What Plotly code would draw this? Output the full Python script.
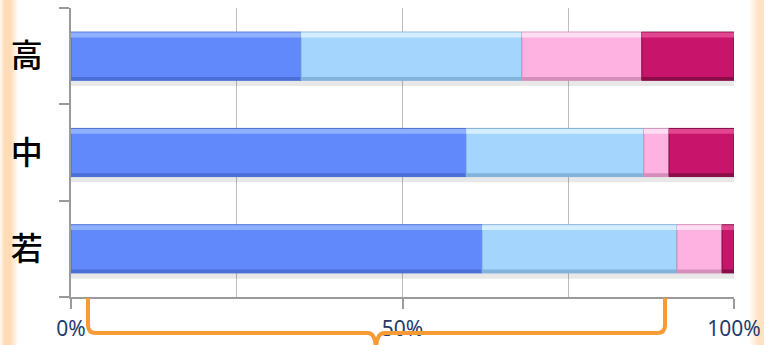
import plotly.graph_objects as go
import numpy as np

categories = ['高', '中', '若']
seg1 = [34.7, 59.6, 62.0]
seg2 = [33.3, 26.8, 29.4]
seg3 = [18.1, 3.8, 6.8]
seg4 = [13.9, 9.8, 1.8]
series = [seg1, seg2, seg3, seg4]
x_ticks = [0, 50, 100]

main_colors = ['#6189FB', '#A3D5FD', '#FEB2E1', '#C8146A']
top_colors = ['#8FB0FF', '#D4EEFF', '#FFDDF2', '#E2468E']
bot_colors = ['#4B6ED8', '#83B3DC', '#D48FBA', '#8A0C48']
edge_colors = ['#4A6CD0', '#7FAEDA', '#CF8AB5', '#7E0A41']

W = 764
H = 345
L, R, T, B = 71, 30, 8, 48
PW = W - L - R

fig = go.Figure()

bases = []
acc = np.zeros(len(categories))
for s in series:
    bases.append(acc.copy())
    acc = acc + np.array(s)

# shadow under bars
fig.add_trace(go.Bar(y=categories, x=list(acc), base=[0] * 3, orientation='h',
                     width=0.06, offset=-0.31,
                     marker=dict(color='rgba(0,0,0,0.09)', line=dict(width=0)),
                     hoverinfo='skip', showlegend=False))

for i, s in enumerate(series):
    fig.add_trace(go.Bar(y=categories, x=s, base=list(bases[i]), orientation='h',
                         width=0.5, offset=-0.25,
                         marker=dict(color=main_colors[i], line=dict(color=edge_colors[i], width=1)),
                         showlegend=False))
    fig.add_trace(go.Bar(y=categories, x=s, base=list(bases[i]), orientation='h',
                         width=0.05, offset=0.195,
                         marker=dict(color=top_colors[i], line=dict(width=0)),
                         hoverinfo='skip', showlegend=False))
    fig.add_trace(go.Bar(y=categories, x=s, base=list(bases[i]), orientation='h',
                         width=0.035, offset=-0.25,
                         marker=dict(color=bot_colors[i], line=dict(width=0)),
                         hoverinfo='skip', showlegend=False))

shapes = []
ph = H - T - B
# left gradient stripe
for px in range(0, 20):
    if px < 4:
        a = 0.25 + 0.18 * px
    elif px < 11:
        a = 1.0
    else:
        a = max(0.0, 1.0 - (px - 10) / 8.0)
    shapes.append(dict(type='rect', xref='paper', yref='paper',
                       x0=(px - L) / PW, x1=(px + 1 - L) / PW,
                       y0=-B / ph, y1=1 + T / ph,
                       fillcolor=f'rgba(255,205,150,{a * 0.7:.3f})', line=dict(width=0), layer='below'))
# right gradient stripe
for px in range(748, 764):
    a = min(1.0, max(0.0, (px - 748) / 10.0))
    shapes.append(dict(type='rect', xref='paper', yref='paper',
                       x0=(px - L) / PW, x1=(px + 1 - L) / PW,
                       y0=-B / ph, y1=1 + T / ph,
                       fillcolor=f'rgba(253,215,170,{a * 0.7:.3f})', line=dict(width=0), layer='below'))

# orange brace below the axis
def py(p):
    return (H - B - p) / ph
def pxp(p):
    return (p - L) / PW
xl, xr, xt = pxp(88), pxp(665), pxp(376)
y0, y1, ytip = py(298), py(333), py(352)
dx = 8 / PW
dy = 8 / ph
path = (f"M {xl},{y0} L {xl},{y1 + dy} Q {xl},{y1} {xl + dx},{y1} "
        f"L {xt - dx},{y1} Q {xt},{y1} {xt},{ytip} Q {xt},{y1} {xt + dx},{y1} "
        f"L {xr - dx},{y1} Q {xr},{y1} {xr},{y1 + dy} L {xr},{y0}")
shapes.append(dict(type='path', xref='paper', yref='paper', path=path,
                   line=dict(color='#F89A35', width=4), layer='above'))

fig.update_layout(
    width=W, height=H,
    margin=dict(l=L, r=R, t=T, b=B, autoexpand=False),
    paper_bgcolor='white', plot_bgcolor='white',
    barmode='overlay', bargap=0.5,
    shapes=shapes,
    font=dict(family='Noto Sans CJK JP, Noto Sans, sans-serif'),
    xaxis=dict(range=[0, 100], tickvals=x_ticks, ticktext=[f'{v}%' for v in x_ticks],
               showgrid=True, gridcolor='#BDBDBD', gridwidth=1,
               minor=dict(dtick=25, showgrid=True, gridcolor='#BDBDBD', ticks=''),
               showline=True, linecolor='#9A9A9A', linewidth=1.5,
               ticks='outside', ticklen=10, tickcolor='#9A9A9A', tickwidth=1.5,
               tickfont=dict(size=21, color='#1F3A6B', family='Noto Sans, sans-serif'),
               ticklabelstandoff=2, zeroline=False, fixedrange=True, automargin=False),
    yaxis=dict(type='category', categoryorder='array', categoryarray=['若', '中', '高'],
               range=[-0.5, 2.5], showgrid=False, zeroline=False,
               showline=True, linecolor='#9A9A9A', linewidth=1.5,
               ticks='outside', ticklen=10, tickcolor='#9A9A9A', tickwidth=1.5,
               tickson='boundaries', ticklabelstandoff=20,
               tickfont=dict(size=32, color='#000000', family='Noto Sans CJK JP', weight=500),
               fixedrange=True, automargin=False),
)

fig.write_html('out.html', config={'displayModeBar': False})
